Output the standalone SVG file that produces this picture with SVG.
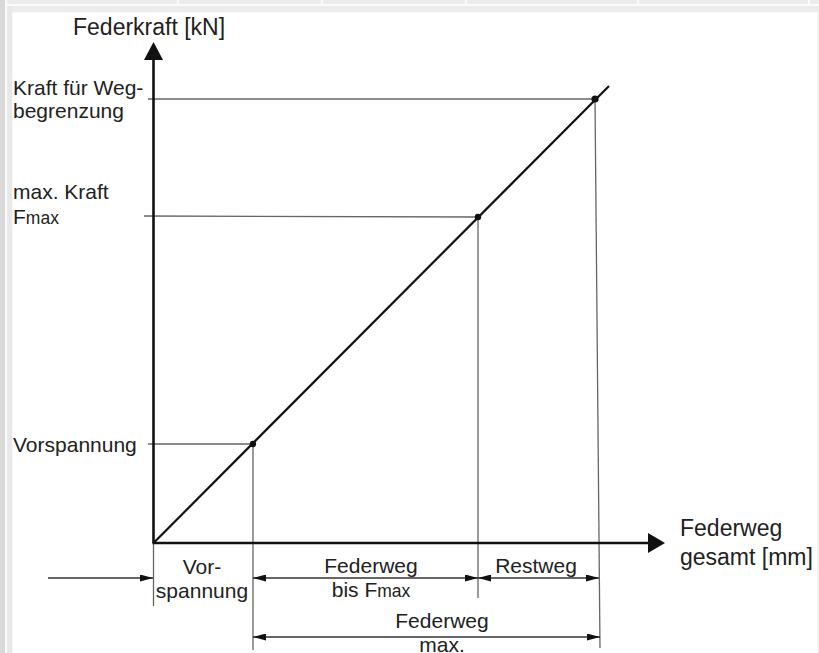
<svg xmlns="http://www.w3.org/2000/svg" width="819" height="653" viewBox="0 0 819 653">
<style>
.t{font-family:"Liberation Sans",Arial,sans-serif;fill:#222;font-size:21px}
.ax{font-size:23px}
.m{text-anchor:middle}
.thin{stroke:#666;stroke-width:1.3;fill:none}
.dim{stroke:#333;stroke-width:1.3;fill:none}
.axis{stroke:#111;stroke-width:2.6;fill:none}
</style>
<defs>
<marker id="ah" viewBox="0 0 13 7" refX="13" refY="3.5" markerWidth="13" markerHeight="7" orient="auto-start-reverse" markerUnits="userSpaceOnUse">
<path d="M0,0 L13,3.5 L0,7 z" fill="#111"/>
</marker>
</defs>
<g id="frame">
<rect x="0" y="0" width="819" height="653" fill="#ececec"/>
<rect x="0" y="0" width="5" height="653" fill="#d9d9d9"/>
<rect x="5" y="0" width="2.3" height="653" fill="#fafafa"/>
<rect x="5" y="4" width="814" height="2" fill="#fafafa"/>
<rect x="177" y="0" width="2" height="4" fill="#fafafa"/>
<rect x="321" y="0" width="2" height="4" fill="#fafafa"/>
<rect x="465" y="0" width="2" height="4" fill="#fafafa"/>
<rect x="637" y="0" width="2" height="4" fill="#fafafa"/>
<rect x="808" y="0" width="2" height="4" fill="#fafafa"/>
<rect x="7.3" y="6" width="5" height="647" fill="#e8e8e8"/>
<rect x="12.3" y="12.3" width="805.4" height="641" fill="#ffffff"/>
</g>
<g id="guides">
<line class="thin" x1="148" y1="99" x2="595" y2="99"/>
<line class="thin" x1="144" y1="216" x2="478" y2="217"/>
<line class="thin" x1="148" y1="444" x2="253" y2="444"/>
<line class="thin" x1="253" y1="444" x2="253" y2="650"/>
<line class="thin" x1="478" y1="217" x2="478" y2="598"/>
<line class="thin" x1="595" y1="99" x2="600" y2="648"/>
<line class="thin" x1="153.5" y1="543" x2="153.5" y2="606"/>
</g>
<g id="axes">
<line class="axis" x1="153.5" y1="543" x2="153.5" y2="56"/>
<polygon points="153.5,42 144,60 163,60" fill="#111"/>
<line class="axis" x1="152.5" y1="543" x2="650" y2="543"/>
<polygon points="665,543 648,533 648,553" fill="#111"/>
</g>
<g id="curve">
<line x1="153.5" y1="543" x2="609" y2="86" stroke="#111" stroke-width="2.2"/>
<circle cx="253" cy="444" r="3.2" fill="#111"/>
<circle cx="478" cy="217" r="3.2" fill="#111"/>
<circle cx="595" cy="99" r="3.6" fill="#111"/>
</g>
<g id="connectors">
<line class="dim" x1="48" y1="578" x2="153" y2="578" marker-end="url(#ah)"/>
<line class="dim" x1="253" y1="578" x2="478" y2="578" marker-start="url(#ah)" marker-end="url(#ah)"/>
<line class="dim" x1="478" y1="578" x2="599" y2="578" marker-start="url(#ah)" marker-end="url(#ah)"/>
<line class="dim" x1="253" y1="637" x2="600" y2="637" marker-start="url(#ah)" marker-end="url(#ah)"/>
</g>
<g id="labels">
<text class="t ax" x="73" y="35">Federkraft [kN]</text>
<text class="t" x="13" y="95">Kraft für Weg-</text>
<text class="t" x="13" y="118">begrenzung</text>
<text class="t" x="13" y="199">max. Kraft</text>
<text class="t" x="13" y="224">F<tspan font-size="17.5">max</tspan></text>
<text class="t" x="13" y="452">Vorspannung</text>
<text class="t ax" x="680" y="536">Federweg</text>
<text class="t ax" x="680" y="565">gesamt [mm]</text>
<text class="t m" x="202" y="574">Vor-</text>
<text class="t m" x="202" y="598">spannung</text>
<text class="t m" x="371" y="573">Federweg</text>
<text class="t m" x="371" y="597">bis F<tspan font-size="17.5">max</tspan></text>
<text class="t m" x="536" y="573">Restweg</text>
<text class="t m" x="442" y="628">Federweg</text>
<text class="t m" x="442" y="652">max.</text>
</g>
</svg>
